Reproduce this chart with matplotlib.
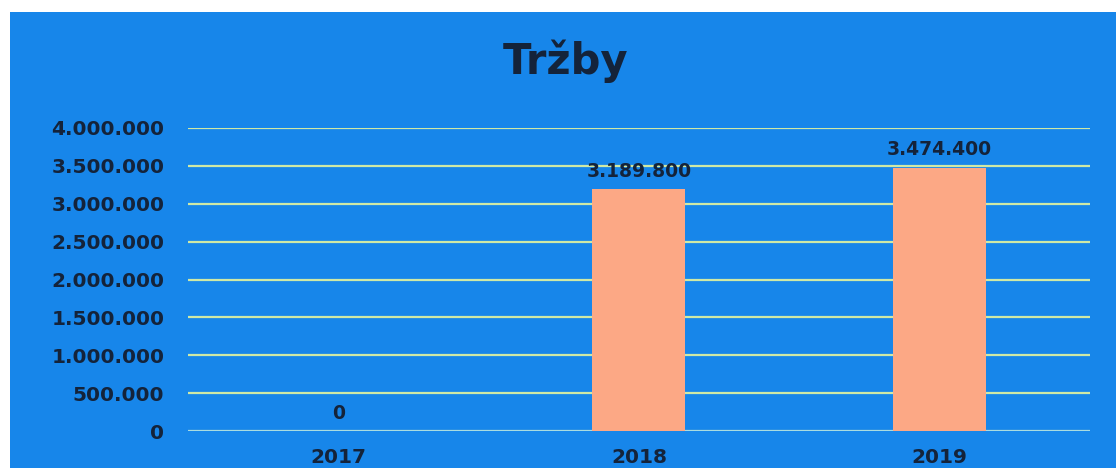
import matplotlib
matplotlib.use("Agg")
import matplotlib.pyplot as plt
from matplotlib.patches import Rectangle
from matplotlib.ticker import FuncFormatter

years = ["2017", "2018", "2019"]
trzby = [0, 3189800, 3474400]

BLUE = "#1786ea"
BAR = "#fca885"
GRID = "#cfe9a6"
TEXT = "#14233a"


def cz(v, pos=None):
    return f"{int(v):,}".replace(",", ".")


fig = plt.figure(figsize=(11.16, 4.68), dpi=100, facecolor="white")
fig.patches.append(Rectangle((0.009, 0), 0.991, 0.974, transform=fig.transFigure,
                             facecolor=BLUE, edgecolor="none", zorder=-10))

ax = fig.add_axes([0.1685, 0.079, 0.808, 0.6475])
ax.set_facecolor("none")
ax.set_zorder(2)

x = range(len(years))
bars = ax.bar(x, trzby, width=0.31, color=BAR, zorder=3)

ax.set_ylim(0, 4000000)
ax.set_xlim(-0.5, 2.5)
ax.set_yticks(range(0, 4000001, 500000))
ax.yaxis.set_major_formatter(FuncFormatter(cz))
ax.grid(axis="y", color=GRID, linewidth=1.6, zorder=1)
ax.set_axisbelow(True)
for s in ax.spines.values():
    s.set_visible(False)
ax.axhline(0, color="#9fd8f2", linewidth=1.8, zorder=2)

ax.set_xticks(list(x))
ax.set_xticklabels(years)
ax.tick_params(axis="both", length=0, colors=TEXT, labelsize=14.5)
ax.tick_params(axis="y", pad=17)
ax.tick_params(axis="x", pad=12)
for lab in ax.get_xticklabels() + ax.get_yticklabels():
    lab.set_fontweight("bold")
    lab.set_family("DejaVu Sans")

for b, v in zip(bars, trzby):
    ax.annotate(cz(v), (b.get_x() + b.get_width() / 2, v), xytext=(0, 6),
                textcoords="offset points", ha="center", va="bottom",
                fontsize=13.5, fontweight="bold", color=TEXT)

fig.text(0.507, 0.87, "Tržby", ha="center", va="center", fontsize=30,
         fontweight="bold", color=TEXT, family="DejaVu Sans")

fig.savefig("out.png", dpi=100, facecolor="white")
